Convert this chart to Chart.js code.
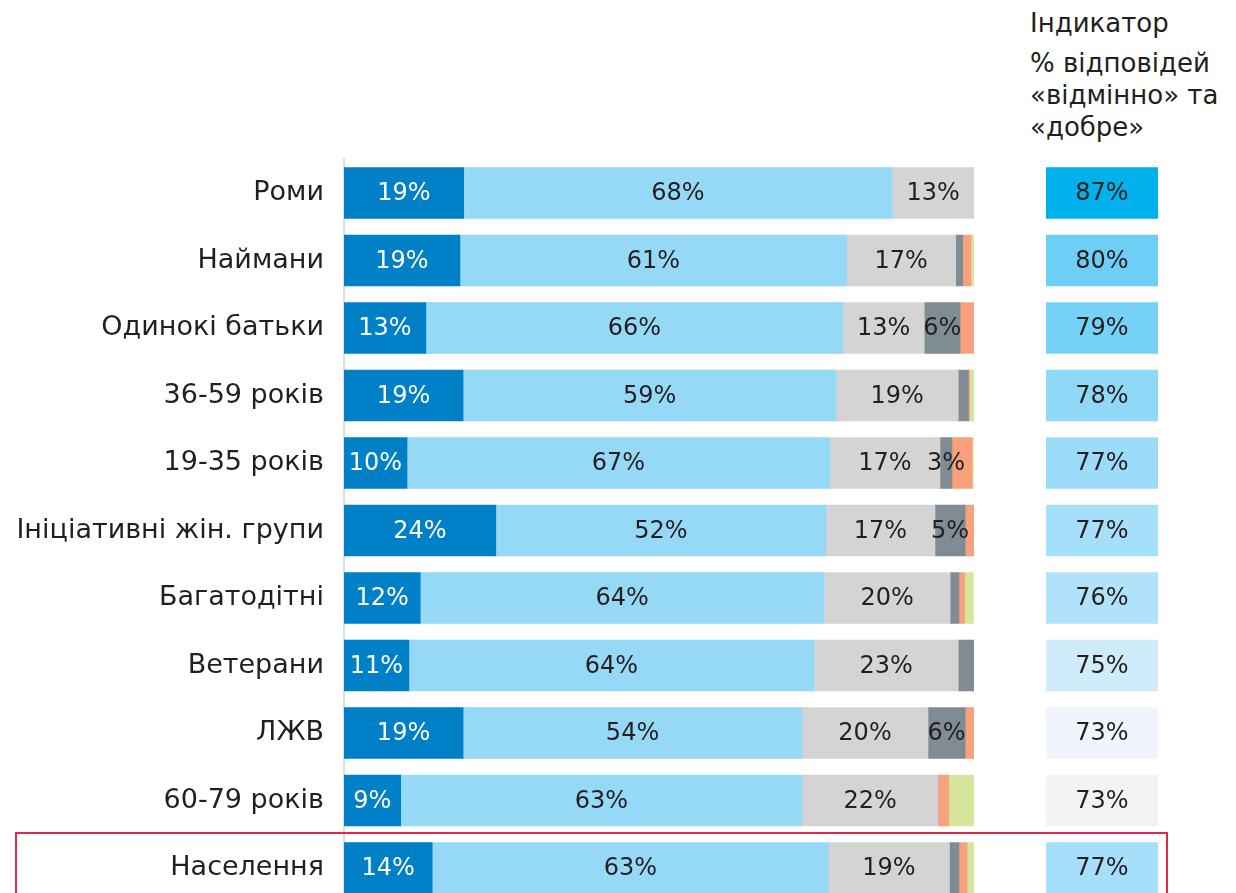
<!DOCTYPE html>
<html lang="uk">
<head>
<meta charset="utf-8">
<script src="https://cdn.jsdelivr.net/npm/chart.js@4/dist/chart.umd.min.js"></script>
<style>
  html, body { margin: 0; padding: 0; background: #fff; }
  body { width: 1236px; height: 893px; overflow: hidden; position: relative; font-family: "DejaVu Sans", sans-serif; color: #231f20; }
  #main { position: absolute; left: 0; top: 0; }
  #side { position: absolute; left: 1040px; top: 0; }
  .head { position: absolute; left: 1030px; font-size: 26px; line-height: 32px; color: #231f20; white-space: nowrap; }
  #frame { position: absolute; left: 15px; top: 832px; width: 1149px; height: 100px; border: 2px solid #e3284b; pointer-events: none; }
</style>
</head>
<body>
<div class="head" style="top:7px">Індикатор</div>
<div class="head" style="top:47px">% відповідей<br>«відмінно» та<br>«добре»</div>
<canvas id="main" width="990" height="910"></canvas>
<canvas id="side" width="130" height="910"></canvas>
<div id="frame"></div>
<script>
// категорії (групи населення)
const categories = ['Роми', 'Наймани', 'Одинокі батьки', '36-59 років', '19-35 років',
  'Ініціативні жін. групи', 'Багатодітні', 'Ветерани', 'ЛЖВ', '60-79 років', 'Населення'];

// ширини сегментів, %
const excellent = [19, 18.4, 13, 18.9, 10, 24.1, 12.1, 10.3, 18.9, 9, 14];
const good = [68, 61.4, 66.2, 59.2, 67.1, 52.4, 64.1, 64.3, 53.8, 63.7, 62.9];
const satisfactory = [13, 17.3, 12.9, 19.4, 17.5, 17.3, 20, 22.9, 20, 21.6, 19.2];
const poor = [0, 1.1, 5.7, 1.6, 1.9, 4.8, 1.4, 2.5, 5.9, 0, 1.5];
const bad = [0, 1.3, 2.2, 0.2, 3.2, 1.4, 0.9, 0, 1.4, 1.7, 1.3];
const noAnswer = [0, 0.5, 0, 0.8, 0.2, 0, 1.4, 0, 0, 4, 1.1];

// надруковані підписи
const excellentLabels = [19, 19, 13, 19, 10, 24, 12, 11, 19, 9, 14];
const goodLabels = [68, 61, 66, 59, 67, 52, 64, 64, 54, 63, 63];
const satisfactoryLabels = [13, 17, 13, 19, 17, 17, 20, 23, 20, 22, 19];
const poorLabels = [null, null, 6, null, 3, 5, null, null, 6, null, null];

// індикатор «відмінно» + «добре»
const indicator = [87, 80, 79, 78, 77, 77, 76, 75, 73, 73, 77];
const indicatorColors = ['#00b1ec', '#6ecff6', '#75d1f6', '#8fd8f8', '#9cdcf9', '#a5dff9',
  '#b0e3f9', '#d0ebf9', '#f0f4fc', '#f4f2f4', '#a5dff9'];

const TEXT = '#231f20';
const FONT = '"DejaVu Sans", sans-serif';

// малює підписи в центрі кожного сегмента
const segmentLabels = {
  id: 'segmentLabels',
  afterDatasetsDraw(chart) {
    const ctx = chart.ctx;
    ctx.save();
    ctx.font = '24px ' + FONT;
    ctx.textAlign = 'center';
    ctx.textBaseline = 'middle';
    chart.data.datasets.forEach((ds, di) => {
      if (!ds.printed) return;
      chart.getDatasetMeta(di).data.forEach((bar, i) => {
        const v = ds.printed[i];
        if (v === null || v === undefined) return;
        const p = bar.getProps(['x', 'y', 'base'], true);
        ctx.fillStyle = ds.textColor || TEXT;
        ctx.fillText(v + '%', (p.x + p.base) / 2, p.y + 1);
      });
    });
    ctx.restore();
  }
};

const mainChart = new Chart(document.getElementById('main'), {
  type: 'bar',
  data: {
    labels: categories,
    datasets: [
      { data: excellent, backgroundColor: '#0080c6', printed: excellentLabels, textColor: '#ffffff' },
      { data: good, backgroundColor: '#95d9f7', printed: goodLabels },
      { data: satisfactory, backgroundColor: '#d4d4d4', printed: satisfactoryLabels },
      { data: poor, backgroundColor: '#7f8c93', printed: poorLabels },
      { data: bad, backgroundColor: '#f9a07c' },
      { data: noAnswer, backgroundColor: '#d5e59b' },
    ],
  },
  options: {
    indexAxis: 'y',
    responsive: false,
    animation: false,
    layout: { padding: { top: 159.25, bottom: 8.25, right: 16, left: 0 } },
    datasets: { bar: { barThickness: 51, borderWidth: 0 } },
    plugins: { legend: { display: false }, tooltip: { enabled: false } },
    scales: {
      x: { stacked: true, min: 0, max: 100, display: false },
      y: {
        stacked: true,
        grid: { display: false, drawTicks: false },
        border: { display: true, color: '#dcdcdc', width: 2 },
        ticks: { color: TEXT, font: { family: FONT, size: 27 }, padding: 20 },
        afterFit(scale) {
          scale.width = 344;
          scale.paddingTop = 0;
          scale.paddingBottom = 0;
        },
      },
    },
  },
  plugins: [segmentLabels],
});

// колонка з індикатором
const sideChart = new Chart(document.getElementById('side'), {
  type: 'bar',
  data: {
    labels: categories,
    datasets: [
      { data: indicator.map(() => [0, 1]), backgroundColor: indicatorColors, printed: indicator },
    ],
  },
  options: {
    indexAxis: 'y',
    responsive: false,
    animation: false,
    layout: { padding: { top: 159.25, bottom: 8.25, left: 6, right: 12 } },
    datasets: { bar: { barThickness: 51, borderWidth: 0 } },
    plugins: { legend: { display: false }, tooltip: { enabled: false } },
    scales: {
      x: { min: 0, max: 1, display: false },
      y: { display: false },
    },
  },
  plugins: [segmentLabels],
});
</script>
</body>
</html>
